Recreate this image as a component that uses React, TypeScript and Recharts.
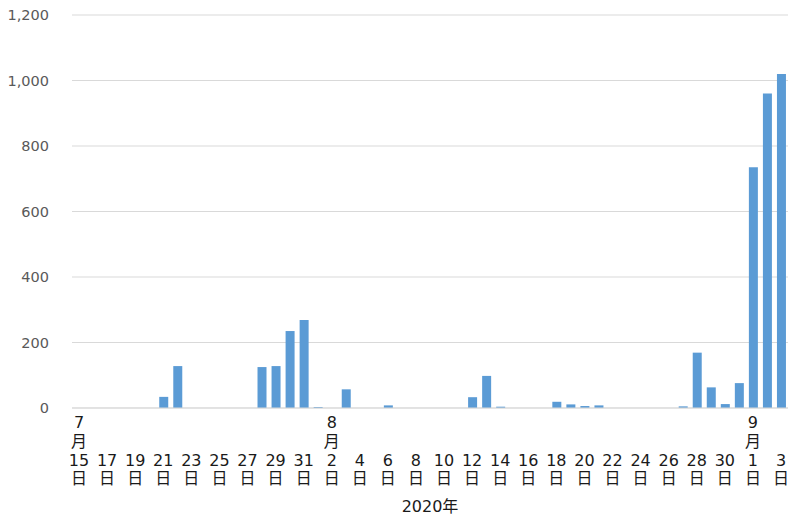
import { BarChart, Bar, XAxis, YAxis, CartesianGrid } from 'recharts'

// 2020/7/15 – 2020/9/3, daily counts
const months = [
  ...Array(17).fill(7),
  ...Array(31).fill(8),
  ...Array(3).fill(9),
]
const days = [
  15, 16, 17, 18, 19, 20, 21, 22, 23, 24, 25, 26, 27, 28, 29, 30, 31,
  1, 2, 3, 4, 5, 6, 7, 8, 9, 10, 11, 12, 13, 14, 15, 16, 17, 18, 19, 20,
  21, 22, 23, 24, 25, 26, 27, 28, 29, 30, 31,
  1, 2, 3,
]
const counts = [
  0, 0, 0, 0, 0, 0, 34, 128, 0, 0, 0, 0, 0, 125, 128, 235, 269,
  3, 0, 57, 0, 0, 8, 0, 0, 0, 0, 0, 33, 98, 4, 0, 0, 0, 19, 11, 6,
  8, 0, 0, 0, 0, 0, 5, 169, 63, 12, 76,
  735, 960, 1020,
]
const yTicks = [0, 200, 400, 600, 800, 1000, 1200]

const data = days.map((d, i) => ({
  key: `${months[i]}/${d}`,
  month: months[i],
  day: d,
  count: counts[i],
}))

const FONT = '"DejaVu Sans", "Noto Sans CJK JP", sans-serif'

function DayTick(props: any) {
  const { x, y, payload } = props
  const index = data.findIndex((d) => d.key === payload.value)
  const item = data[index]
  if (!item) return null
  const prev = data[index - 2]
  const showMonth = index === 0 || (prev && prev.month !== item.month)
  const lines = showMonth
    ? [String(item.month), '月', String(item.day), '日']
    : [String(item.day), '日']
  const start = showMonth ? 0 : 2
  return (
    <g>
      {lines.map((t, k) => (
        <text
          key={k}
          x={x}
          y={y + 12 + (start + k) * 18.8}
          textAnchor="middle"
          fontSize={16}
          fontFamily={FONT}
          fill="#1a1a1a"
        >
          {t}
        </text>
      ))}
    </g>
  )
}

export default function App() {
  return (
    <div style={{ position: 'absolute', left: 0, top: 0, background: '#fff' }}>
      <BarChart
        width={800}
        height={519}
        data={data}
        margin={{ top: 15, right: 12, left: 0, bottom: 0 }}
      >
        <CartesianGrid vertical={false} stroke="#d9d9d9" />
        <XAxis
          dataKey="key"
          interval={1}
          height={111}
          tickLine={false}
          axisLine={{ stroke: '#d9d9d9' }}
          tick={<DayTick />}
          label={{
            value: '2020年',
            position: 'insideBottom',
            offset: 7,
            fontSize: 16,
            fontFamily: FONT,
            fill: '#1a1a1a',
          }}
        />
        <YAxis
          width={72}
          domain={[0, 1200]}
          ticks={yTicks}
          axisLine={false}
          tickLine={false}
          tickMargin={17}
          tickFormatter={(v: number) => v.toLocaleString('en-US')}
          tick={{ fontSize: 14.5, fontFamily: FONT, fill: '#595959' }}
        />
        <Bar dataKey="count" fill="#5b9bd5" barSize={9} isAnimationActive={false} />
      </BarChart>
    </div>
  )
}
